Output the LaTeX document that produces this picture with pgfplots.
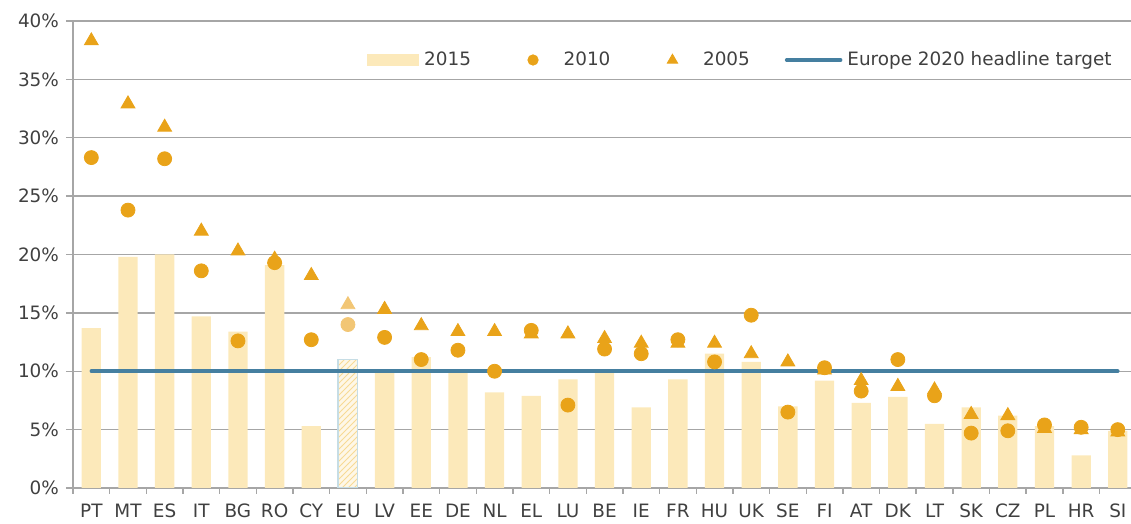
\documentclass[border=0pt]{standalone}
\usepackage{fontspec}
\setmainfont{DejaVu Sans}
\usepackage{pgfplots}
\pgfplotsset{compat=1.18}
\usetikzlibrary{patterns}
\definecolor{barc}{HTML}{FCE9BA}
\definecolor{mk}{HTML}{E9A319}
\definecolor{mkl}{HTML}{F2C675}
\definecolor{tgt}{HTML}{457FA0}
\definecolor{gridc}{HTML}{A6A6A6}
\definecolor{txt}{HTML}{404040}
\definecolor{eub}{HTML}{C6DDE5}
\definecolor{hatch}{HTML}{F7DA95}

\begin{document}
\begin{tikzpicture}
\path[use as bounding box] (-36.5pt,-18pt) rectangle (529pt,244pt);
\begin{axis}[
  scale only axis,
  width=529pt, height=233.5pt,
  xmin=-0.5, xmax=28.36,
  ymin=0, ymax=40,
  axis x line*=bottom,
  axis y line*=left,
  axis line style={gridc, line width=0.7pt},
  ytick={0,5,...,40},
  ymajorgrids,
  grid style={gridc, line width=0.7pt},
  xtick={0,...,28},
  xticklabels={PT,MT,ES,IT,BG,RO,CY,EU,LV,EE,DE,NL,EL,LU,BE,IE,FR,HU,UK,SE,FI,AT,DK,LT,SK,CZ,PL,HR,SI},
  minor xtick={-0.5,0.5,...,28.5},
  major x tick style={draw=none},
  minor x tick style={gridc, line width=0.7pt},
  minor tick length=3pt,
  major tick length=3.5pt,
  tick align=outside,
  tick style={gridc, line width=0.7pt},
  yticklabel={\pgfmathprintnumber{\tick}\%},
  /pgf/number format/assume math mode=true,
  ticklabel style={font=\fontsize{9.2}{11}\selectfont, text=txt},
  xticklabel style={yshift=-1pt},
  legend columns=4,
  legend cell align=left,
  legend style={at={(0.2779,0.9165)}, anchor=west, draw=none, fill=none,
    inner sep=0pt, nodes={inner sep=2.5pt},
    font=\fontsize{9.2}{11}\selectfont, text=txt,
    /tikz/every even column/.append style={column sep=15pt}},
]
% 2015 bars
\addplot[ybar, bar width=9.65pt, fill=barc, draw=none, forget plot] coordinates {
  (0,13.7) (1,19.8) (2,20.0) (3,14.7) (4,13.4) (5,19.1) (6,5.3)
  (8,9.9) (9,11.2) (10,9.9) (11,8.2) (12,7.9) (13,9.3) (14,9.9) (15,6.9)
  (16,9.3) (17,11.5) (18,10.8) (19,7.0) (20,9.2) (21,7.3) (22,7.8) (23,5.5)
  (24,6.9) (25,6.2) (26,5.3) (27,2.8) (28,4.9)};
% EU 2015 (hatched)
\addplot[ybar, bar width=9.65pt, draw=eub, line width=0.8pt, fill=barc!35!white,
  postaction={pattern=north east lines, pattern color=hatch}, forget plot]
  coordinates {(7,11.0)};
% target
\addplot[tgt, line width=1.75pt, line cap=round, forget plot] coordinates {(0,10) (28,10)};
% 2005
\addplot[only marks, color=mk, mark=triangle*, mark size=4pt, forget plot] coordinates {
  (0,38.3) (1,32.9) (2,30.9) (3,22.0) (4,20.3) (5,19.6) (6,18.2)
  (8,15.3) (9,13.9) (10,13.4) (11,13.4) (12,13.2) (13,13.2) (14,12.8) (15,12.4)
  (16,12.4) (17,12.4) (18,11.5) (19,10.8) (20,10.1) (21,9.2) (22,8.7) (23,8.4)
  (24,6.3) (25,6.2) (26,5.1) (27,5.0) (28,4.8)};
\addplot[only marks, color=mkl, mark=triangle*, mark size=4pt, forget plot]
  coordinates {(7,15.7)};
% 2010
\addplot[only marks, color=mk, mark=*, mark size=3.5pt, forget plot] coordinates {
  (0,28.3) (1,23.8) (2,28.2) (3,18.6) (4,12.6) (5,19.3) (6,12.7)
  (8,12.9) (9,11.0) (10,11.8) (11,10.0) (12,13.5) (13,7.1) (14,11.9) (15,11.5)
  (16,12.7) (17,10.8) (18,14.8) (19,6.5) (20,10.3) (21,8.3) (22,11.0) (23,7.9)
  (24,4.7) (25,4.9) (26,5.4) (27,5.2) (28,5.0)};
\addplot[only marks, color=mkl, mark=*, mark size=3.5pt, forget plot]
  coordinates {(7,14.0)};
% legend
\addlegendimage{legend image code/.code={\fill[barc] (0pt,-2.75pt) rectangle (25.5pt,2.75pt);}}
\addlegendentry{2015}
\addlegendimage{legend image code/.code={\path[draw=none] (0pt,0pt) -- (26.3pt,0pt); \fill[mk] (13.5pt,0pt) circle (2.6pt);}}
\addlegendentry{2010}
\addlegendimage{legend image code/.code={\path[draw=none] (0pt,0pt) -- (26.3pt,0pt); \fill[mk] (13.5pt,2.9pt) -- (16.1pt,-1.6pt) -- (10.9pt,-1.6pt) -- cycle;}}
\addlegendentry{2005}
\addlegendimage{legend image code/.code={\draw[tgt, line width=1.75pt, line cap=round] (0pt,0pt) -- (27pt,0pt);}}
\addlegendentry{Europe 2020 headline target}
\end{axis}
\end{tikzpicture}
\end{document}
